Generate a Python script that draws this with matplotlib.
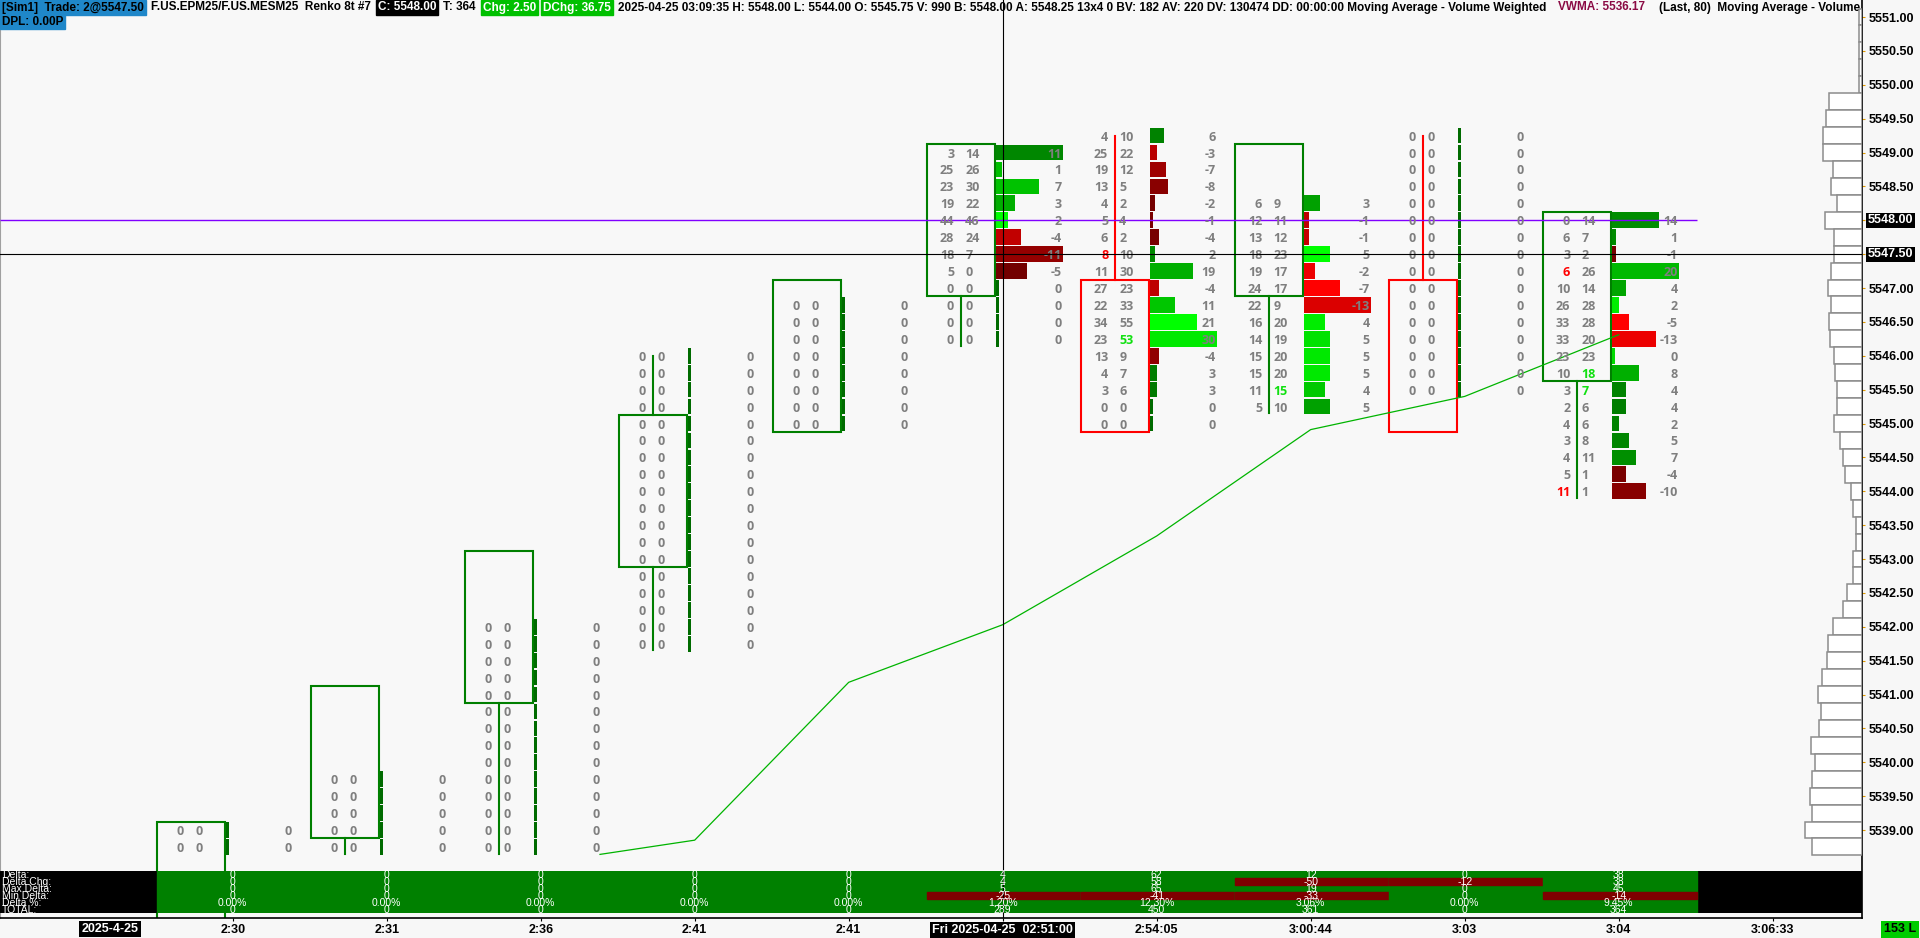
import numpy as np
import matplotlib
matplotlib.use('Agg')
import matplotlib.pyplot as plt
import matplotlib.transforms as mtransforms
from matplotlib.patches import Rectangle
from matplotlib import font_manager

installed = {f.name for f in font_manager.fontManager.ttflist}
LAB_FONT = 'Liberation Sans' if 'Liberation Sans' in installed else 'DejaVu Sans'
NUM_FONT = 'Open Sans' if 'Open Sans' in installed else 'DejaVu Sans'
plt.rcParams['font.family'] = LAB_FONT

# ---- Renko 8t footprint bars ----
x_labels = ['2:30', '2:31', '2:36', '2:41', '2:41', 'Fri 2025-04-25  02:51:00',
            '2:54:05', '3:00:44', '3:03', '3:04', '3:06:33']
box_open = [5537.0, 5539.0, 5541.0, 5543.0, 5545.0, 5547.0, 5547.0, 5547.0, 5547.0, 5545.75]
box_close = [5539.0, 5541.0, 5543.0, 5545.0, 5547.0, 5549.0, 5545.0, 5549.0, 5545.0, 5548.0]
bar_high = [5539.0, 5541.0, 5543.0, 5546.0, 5547.0, 5549.0, 5549.25, 5549.0, 5549.25, 5548.0]
bar_low = [5537.0, 5538.75, 5538.75, 5541.75, 5545.0, 5546.25, 5545.0, 5545.25, 5545.0, 5544.0]
row_top = [5539.0, 5539.75, 5542.0, 5546.0, 5546.75, 5549.0, 5549.25, 5548.25, 5549.25, 5548.0]

bid_vol = [
    [0] * 2,
    [0] * 5,
    [0] * 14,
    [0] * 18,
    [0] * 8,
    [3, 25, 23, 19, 44, 28, 18, 5, 0, 0, 0, 0],
    [4, 25, 19, 13, 4, 5, 6, 8, 11, 27, 22, 34, 23, 13, 4, 3, 0, 0],
    [6, 12, 13, 18, 19, 24, 22, 16, 14, 15, 15, 11, 5],
    [0] * 16,
    [0, 6, 3, 6, 10, 26, 33, 33, 23, 10, 3, 2, 4, 3, 4, 5, 11],
]
ask_vol = [
    [0] * 2,
    [0] * 5,
    [0] * 14,
    [0] * 18,
    [0] * 8,
    [14, 26, 30, 22, 46, 24, 7, 0, 0, 0, 0, 0],
    [10, 22, 12, 5, 2, 4, 2, 10, 30, 23, 33, 55, 53, 9, 7, 6, 0, 0],
    [9, 11, 12, 23, 17, 17, 9, 20, 19, 20, 20, 15, 10],
    [0] * 16,
    [14, 7, 2, 26, 14, 28, 28, 20, 23, 18, 7, 6, 6, 8, 11, 1, 1],
]
# imbalance highlights: (bar, row, side)
imbalance = [(6, 7, 'bid'), (6, 12, 'ask'), (7, 11, 'ask'), (9, 3, 'bid'),
             (9, 9, 'ask'), (9, 10, 'ask'), (9, 16, 'bid')]

max_delta = [0, 0, 0, 0, 0, 5, 65, 19, 0, 45]
min_delta = [0, 0, 0, 0, 0, -25, -41, -33, 0, -14]
total_trades = [0, 0, 0, 0, 0, 289, 450, 361, 0, 364]

# VWMA (Last, 80)
vwma_x = [2.385, 3, 4, 5, 6, 7, 8, 9]
vwma = [5538.64, 5538.85, 5541.18, 5542.03, 5543.34, 5544.91, 5545.40, 5546.31]

# session volume profile
profile_price = np.arange(5551.0, 5538.74, -0.25)
profile_vol = [8, 8, 8, 8, 8,
               100, 108, 118, 118, 88, 94, 76, 112, 84, 84,
               94, 102, 94, 100, 96, 85, 82, 76, 76, 85,
               66, 58, 52, 34, 28, 18, 18, 28, 28, 46,
               58, 88, 103, 106, 121, 133, 124, 130, 154, 142,
               151, 157, 151, 172, 151]

# header status line: (text, text colour, background)
header_segments = [
    ('[Sim1]  Trade: 2@5547.50', 'black', '#1f87c9'),
    ('F.US.EPM25/F.US.MESM25  Renko 8t #7', 'black', None),
    ('C: 5548.00', 'white', 'black'),
    ('T: 364', 'black', None),
    ('Chg: 2.50', 'white', '#00c000'),
    ('DChg: 36.75', 'white', '#00c000'),
    ('2025-04-25 03:09:35 H: 5548.00 L: 5544.00 O: 5545.75 V: 990 B: 5548.00 '
     'A: 5548.25 13x4 0 BV: 182 AV: 220 DV: 130474 DD: 00:00:00 '
     'Moving Average - Volume Weighted', 'black', None),
    ('VWMA: 5536.17', '#8a0a44', None),
    ('(Last, 80)  Moving Average - Volume Weighted', 'black', None),
]

# ---- layout (pixels) ----
W, H = 1920, 938
PLOT_R, PLOT_B = 1862, 918
BAR_PX, X0_PX, PX_PER_PT = 154.0, 232.7, 67.75

def fx(px):
    return px / W

def fy(py):
    return 1 - py / H

fig = plt.figure(figsize=(W / 100, H / 100), dpi=100)
fig.patch.set_facecolor('#f7f7f7')

ax = fig.add_axes([0, fy(PLOT_B), fx(PLOT_R), PLOT_B / H])
ax.set_facecolor('#f8f8f8')
xlim = (-X0_PX / BAR_PX, (PLOT_R - X0_PX) / BAR_PX)
ax.set_xlim(*xlim)
ax.set_ylim(5551 - (PLOT_B - 17) / PX_PER_PT, 5551 + 17 / PX_PER_PT)

GRAY = '#7f7f7f'
HI_GREEN = '#10e010'
HI_RED = '#ff0000'
MIN_W = 3 / BAR_PX

for k in range(len(bid_vol)):
    bids = np.array(bid_vol[k])
    asks = np.array(ask_vol[k])
    prices = row_top[k] - 0.25 * np.arange(len(bids))
    delta = asks - bids
    vol = asks + bids
    dmax = np.abs(delta).max()
    vmax = vol.max()

    # candle box + wicks
    up = box_close[k] > box_open[k]
    col = '#007f00' if up else '#ff0000'
    lo, hi = min(box_open[k], box_close[k]), max(box_open[k], box_close[k])
    ax.add_patch(Rectangle((k - 0.4916, lo - 0.125), 0.4416, hi - lo + 0.25,
                           fill=False, ec=col, lw=1.5, zorder=2))
    xc = k - 0.271
    if bar_high[k] > hi:
        ax.plot([xc, xc], [hi + 0.125, bar_high[k]], color=col, lw=1.5, zorder=2)
    if bar_low[k] < lo:
        ax.plot([xc, xc], [bar_low[k] - 0.1, lo - 0.125], color=col, lw=1.5, zorder=2)

    # delta histogram
    widths, colors = [], []
    for d, v in zip(delta, vol):
        w = abs(d) / dmax * 0.435 if dmax > 0 else 0
        widths.append(max(w, MIN_W))
        lvl = 0.42 + 0.58 * (v / vmax if vmax > 0 else 0)
        colors.append((0, lvl, 0) if d >= 0 else (lvl, 0, 0))
    ax.barh(prices, widths, left=k - 0.042, height=0.232, color=colors, zorder=2)

    # bid x ask numbers and delta column
    for i, p in enumerate(prices):
        bc = ac = GRAY
        for (bk, br, side) in imbalance:
            if bk == k and br == i:
                if side == 'bid':
                    bc = HI_RED
                else:
                    ac = HI_GREEN
        ax.text(k - 0.315, p, str(bids[i]), ha='right', va='center_baseline', fontsize=9,
                fontweight='bold', color=bc, family=NUM_FONT, zorder=4)
        ax.text(k - 0.2435, p, str(asks[i]), ha='left', va='center_baseline', fontsize=9,
                fontweight='bold', color=ac, family=NUM_FONT, zorder=4)
        ax.text(k + 0.383, p, str(delta[i]), ha='right', va='center_baseline', fontsize=9,
                fontweight='bold', color=GRAY, family=NUM_FONT, zorder=4)

# VWMA line
ax.plot(vwma_x, vwma, color='#00b400', lw=0.9, zorder=3)

# price lines and crosshair
ax.hlines(5548.0, xlim[0], 9.508, color='#8000ff', lw=1.0, zorder=3)
ax.axvline(5, color='black', lw=0.8, zorder=3)

# volume profile on the right edge
axp = ax.twiny()
axp.set_xlim(PLOT_R * 3, 0)
axp.barh(profile_price, profile_vol, left=0, height=0.25, facecolor='white',
         edgecolor='#8c8c8c', lw=1.1)
axp.axhline(5547.5, color='black', lw=0.8)
axp.tick_params(top=False, labeltop=False)
for s in axp.spines.values():
    s.set_visible(False)

# axes styling
ax.spines['top'].set_visible(False)
ax.spines['left'].set_color('#a0a0a0')
ax.spines['right'].set_linewidth(1.2)
ax.spines['bottom'].set_linewidth(1.2)

yt = np.arange(5539.0, 5551.01, 0.5)
ax.yaxis.tick_right()
ax.set_yticks(yt)
ax.set_yticklabels(['' if v in (5548.0, 5547.5) else f'{v:.2f}' for v in yt])
ax.tick_params(axis='y', length=2, color='#e09a00', pad=3, labelsize=9)
for lab in ax.get_yticklabels():
    lab.set_fontweight('bold')
ytrans = mtransforms.blended_transform_factory(ax.transAxes, ax.transData)
for v in (5548.0, 5547.5):
    ax.text(1 + 6 / PLOT_R, v, f'{v:.2f}', transform=ytrans, ha='left', va='center',
            color='white', fontsize=9, fontweight='bold', clip_on=False,
            bbox=dict(facecolor='black', edgecolor='none', pad=1.2))

ax.set_xticks(range(len(x_labels)))
ax.set_xticklabels(x_labels)
ax.tick_params(axis='x', length=2, pad=2.5, labelsize=9)
for i, lab in enumerate(ax.get_xticklabels()):
    lab.set_fontweight('bold')
    if i == 5:
        lab.set_color('white')
        lab.set_bbox(dict(facecolor='black', edgecolor='none', pad=1.5))
fig.text(fx(110), fy(929), '2025-4-25', ha='center', va='center', color='white',
         fontsize=9, fontweight='bold',
         bbox=dict(facecolor='black', edgecolor='none', pad=1.5))
fig.text(fx(1900), fy(929), '153 L', ha='center', va='center', color='black',
         fontsize=9, fontweight='bold',
         bbox=dict(facecolor='#00cc00', edgecolor='none', pad=1.8))

# ---- bottom delta panel ----
axd = fig.add_axes([0, fy(913), fx(PLOT_R), 42 / H])
axd.set_xlim(*xlim)
axd.set_ylim(6, 0)
axd.axis('off')
axd.add_patch(Rectangle((xlim[0], 0), xlim[1] - xlim[0], 6, color='black'))

bar_delta = [int(np.sum(np.array(a) - np.array(b))) for a, b in zip(ask_vol, bid_vol)]
bar_volume = [int(np.sum(a) + np.sum(b)) for a, b in zip(ask_vol, bid_vol)]
delta_chg = [bar_delta[0]] + [bar_delta[i] - bar_delta[i - 1] for i in range(1, len(bar_delta))]
delta_pct = [d / v * 100 if v else 0 for d, v in zip(bar_delta, bar_volume)]
panel_rows = [bar_delta, delta_chg, max_delta, min_delta, delta_pct, total_trades]
panel_names = ['Delta:', 'Delta Chg:', 'Max Delta:', 'Min Delta:', 'Delta %:', 'TOTAL:']

for k in range(len(bar_delta)):
    axd.add_patch(Rectangle((k - 0.4916, 0), 1, 6, color='#008000'))
    for r, row in enumerate(panel_rows):
        val = row[k]
        if val < 0:
            axd.add_patch(Rectangle((k - 0.4916, r), 1, 1, color='#7f0000'))
        s = f'{val:.2f}%' if r == 4 else str(val)
        axd.text(k, r + 0.55, s, ha='center', va='center', color='white', fontsize=7.5)
ptrans = mtransforms.blended_transform_factory(axd.transAxes, axd.transData)
for r, name in enumerate(panel_names):
    axd.text(2 / PLOT_R, r + 0.55, name, transform=ptrans, ha='left', va='center',
             color='white', fontsize=7.5)
axd.axvline(5, color='black', lw=0.8)

# ---- header: segments flow left to right, sized so the status text ends near x=1547 ----
renderer = fig.canvas.get_renderer()
hdr = []
for s, c, bg in header_segments:
    t = ax.text(0, fy(7.5), s, transform=fig.transFigure, color=c, fontsize=9,
                fontweight='bold', ha='left', va='center', zorder=6, clip_on=True)
    hdr.append(t)
PAD, GAP = 2, 3
text_w = sum(t.get_window_extent(renderer).width for t in hdr[:7])
fixed = 7 * (2 * PAD + GAP)
size = 9 * (1547 - fixed) / text_w
gaps = [GAP] * 6 + [8, 10, 0]
x = 0
for t, (s, c, bg), g in zip(hdr, header_segments, gaps):
    t.set_fontsize(size)
    w = t.get_window_extent(renderer).width
    t.set_x(fx(x + PAD))
    if bg is not None:
        ax.add_patch(Rectangle((fx(x), fy(15)), fx(w + 2 * PAD), 15 / H,
                               transform=fig.transFigure, color=bg, zorder=5, clip_on=False))
    x += w + 2 * PAD + g

dpl = ax.text(fx(PAD), fy(22), 'DPL: 0.00P', transform=fig.transFigure, color='black',
              fontsize=size, fontweight='bold', ha='left', va='center', zorder=6)
wd = dpl.get_window_extent(renderer).width
ax.add_patch(Rectangle((0, fy(29)), fx(wd + 2 * PAD), 14 / H, transform=fig.transFigure,
                       color='#1f87c9', zorder=5, clip_on=False))

fig.savefig('out.png', dpi=100, facecolor=fig.get_facecolor())
